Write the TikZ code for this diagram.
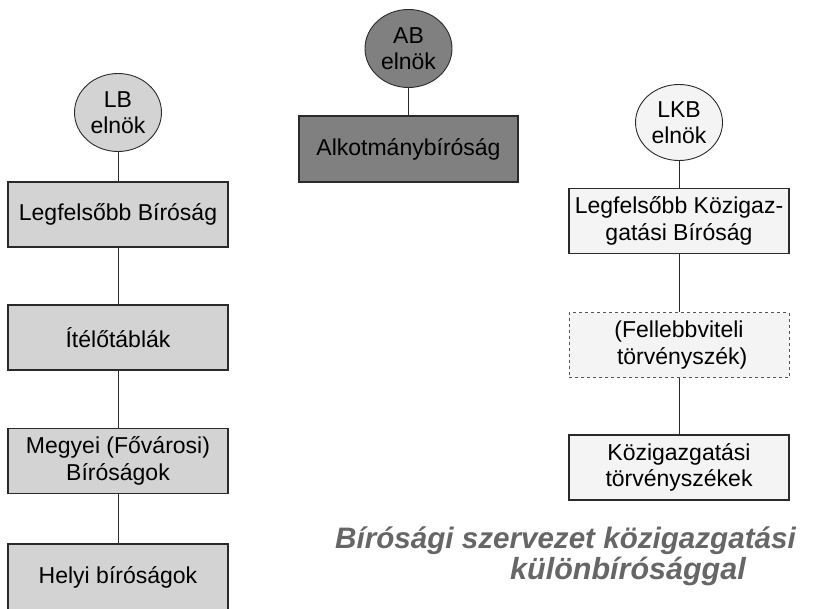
\documentclass[tikz,border=0pt]{standalone}
\usepackage{fontspec}
\setmainfont{Liberation Sans}
\usetikzlibrary{shapes.geometric}

\definecolor{lightfill}{HTML}{D3D3D3}
\definecolor{darkfill}{HTML}{808080}
\definecolor{palefill}{HTML}{F4F4F4}
\definecolor{edge}{HTML}{2A2A2A}
\definecolor{titlegray}{HTML}{666666}

\tikzset{
  label text/.style={font=\fontsize{23}{26.5}\selectfont, align=center, text=black},
  court/.style={label text, draw=edge, line width=1.1pt, rectangle,
    minimum width=220pt, minimum height=65pt, inner sep=0pt},
  head/.style={label text, draw=edge, line width=0.9pt, ellipse,
    minimum width=87pt, minimum height=78pt, inner sep=0pt},
  link/.style={draw=edge, line width=0.9pt},
  title text/.style={font=\fontsize{30}{34}\selectfont\bfseries\itshape,
    text=titlegray, anchor=base west, inner sep=0pt}
}

\begin{document}
\begin{tikzpicture}[x=1pt, y=-1pt]
  \path[use as bounding box, clip] (0,0) rectangle (818,609);
  \fill[white] (0,0) rectangle (818,609);

  % ordinary courts
  \node[head, fill=lightfill] (lb) at (118,112.5) {LB\\elnök};
  \node[court, fill=lightfill] (lfb) at (118,214.5) {Legfelsőbb Bíróság};
  \node[court, fill=lightfill] (itt) at (118,337.5) {Ítélőtáblák};
  \node[court, fill=lightfill] (meg) at (118,461) {Megyei (Fővárosi)\\Bíróságok};
  \node[court, fill=lightfill, minimum height=67pt] (hely) at (118,577.5) {Helyi bíróságok};

  \draw[link] (lb.south) -- (lfb.north);
  \draw[link] (lfb.south) -- (itt.north);
  \draw[link] (itt.south) -- (meg.north);
  \draw[link] (meg.south) -- (hely.north);

  % constitutional court
  \node[head, fill=darkfill] (ab) at (408.5,48.5) {AB\\elnök};
  \node[court, fill=darkfill, minimum width=219pt, minimum height=66pt] (alk) at (408.5,149) {Alkotmánybíróság};
  \draw[link] (ab.south) -- (alk.north);

  % administrative courts
  \node[head, fill=palefill, minimum height=76pt] (lkb) at (679,122.5) {LKB\\elnök};
  \node[court, fill=palefill] (lkbb) at (679,221) {Legfelsőbb Közigaz-\\gatási Bíróság};
  \node[court, fill=palefill, dashed, draw=edge!80, line width=0.8pt] (fell) at (679,345) {(Fellebbviteli\\\ törvényszék)};
  \node[court, fill=palefill] (koz) at (679,467.5) {Közigazgatási\\törvényszékek};

  \draw[link] (lkb.south) -- (lkbb.north);
  \draw[link] (lkbb.south) -- (fell.north);
  \draw[link] (fell.south) -- (koz.north);

  % caption
  \node[title text, font=\fontsize{29.6}{34}\selectfont\bfseries\itshape] (cap1) at (335,548) {Bírósági szervezet közigazgatási};
  \node[title text, font=\fontsize{30.5}{34}\selectfont\bfseries\itshape] (cap2) at (510,579) {különbírósággal};
\end{tikzpicture}
\end{document}
